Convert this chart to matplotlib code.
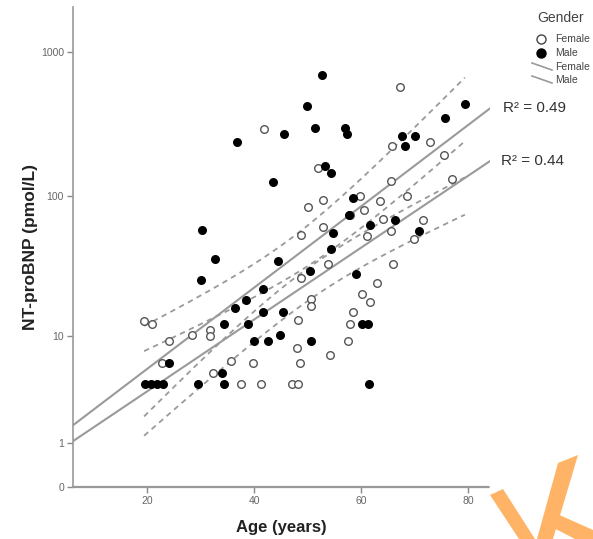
import numpy as np
import matplotlib
matplotlib.use("Agg")
import matplotlib.pyplot as plt
from matplotlib.lines import Line2D
from matplotlib.patches import Polygon

plt.rcParams['font.family'] = ['Liberation Sans', 'DejaVu Sans']

# Age (years) and NT-proBNP (pmol/L) per subject
female_age = [41.9, 67.2, 65.7, 72.8, 75.5, 77.0, 52.0, 65.6, 52.9, 59.8,
              68.5, 50.1, 60.6, 63.6, 57.9, 64.0, 52.9, 61.1, 65.6, 71.6,
              69.8, 48.7, 53.8, 66.0, 62.9, 48.7, 60.2, 61.7, 50.7, 50.7,
              58.4, 57.9, 57.6, 54.2, 48.1, 48.0, 48.5, 47.0, 48.2, 19.4,
              20.8, 24.1, 28.4, 31.7, 31.7, 22.7, 35.6, 39.8, 32.3, 37.6,
              41.2]
female_bnp = [294, 570, 223, 240, 193, 131, 157, 127, 94, 100,
              100, 84, 80, 93, 73.5, 69.7, 61, 53, 57, 68.5,
              49.9, 53.5, 33.3, 33.5, 24.4, 26.5, 20.5, 18.0, 18.7, 16.6,
              15.2, 12.2, 9.2, 7.1, 13.1, 8.1, 6.2, 4.1, 4.1, 13.0,
              12.2, 9.2, 10.2, 11.1, 10.0, 6.2, 6.4, 6.2, 5.1, 4.1,
              4.1]

male_age = [52.6, 49.9, 51.3, 57.0, 57.4, 67.6, 70.0, 68.2, 75.6, 79.4,
            53.3, 54.3, 58.5, 36.7, 45.5, 43.6, 30.2, 32.7, 30.0, 44.5,
            41.6, 38.4, 50.5, 57.8, 61.6, 66.3, 54.8, 54.4, 70.8, 59.1,
            36.4, 41.6, 45.4, 34.4, 38.9, 39.9, 42.6, 44.9, 50.6, 60.2,
            61.3, 61.4, 24.0, 33.9, 34.3, 29.5, 19.6, 20.7, 21.8, 22.9]
male_bnp = [690, 422, 300, 300, 270, 261, 261, 222, 350, 439,
            162, 145, 97, 240, 272, 126, 58, 36.5, 25.6, 35,
            22.1, 18.5, 29.9, 73.5, 63.4, 68.5, 55.6, 42.7, 57.5, 28.4,
            16.2, 15.1, 15.1, 12.2, 12.2, 9.2, 9.2, 10.1, 9.2, 12.2,
            12.2, 4.1, 6.2, 5.1, 4.1, 4.1, 4.1, 4.1, 4.1, 4.1]

# Linear fits on log10(NT-proBNP + 1): intercept, slope per year
female_fit = (0.165, 0.02476)
male_fit = (0.255, 0.02801)
r2_male = "R\u00b2 = 0.49"
r2_female = "R\u00b2 = 0.44"

y_ticks = [0, 1, 10, 100, 1000]
x_ticks = [20, 40, 60, 80]

W, H = 593, 539


def fwd(v):
    v = np.asarray(v, dtype=float)
    return np.log10(np.clip(v, 0, None) + 1.0)


def inv(t):
    return 10.0 ** np.asarray(t, dtype=float) - 1.0


def fig_xy(px, py):
    return px / W, 1 - py / H


fig = plt.figure(figsize=(W / 100, H / 100), dpi=100)
ax = fig.add_axes([73 / W, 52 / H, 417 / W, 480 / H])
ax.set_yscale('function', functions=(fwd, inv))
x_lo, x_hi = 6.1, 84.1
ax.set_xlim(x_lo, x_hi)
ax.set_ylim(0, 2040)

line_col = '#9a9a9a'
all_age = np.concatenate([female_age, male_age])
band_lo, band_hi = all_age.min(), all_age.max()


def draw_group(age, bnp, fit):
    age = np.asarray(age, float)
    t = fwd(bnp)
    a, b = fit
    xs = np.linspace(x_lo, x_hi, 200)
    ax.plot(xs, inv(a + b * xs), color=line_col, lw=1.5, zorder=2)
    # 95% confidence band of the mean
    n = len(age)
    resid = t - (a + b * age)
    s = np.sqrt(np.sum(resid ** 2) / (n - 2))
    xbar = age.mean()
    sxx = np.sum((age - xbar) ** 2)
    xc = np.linspace(band_lo, band_hi, 200)
    hw = 2.01 * s * np.sqrt(1.0 / n + (xc - xbar) ** 2 / sxx)
    for sign in (1, -1):
        ax.plot(xc, inv(a + b * xc + sign * hw), color=line_col, lw=1.3,
                ls=(0, (3, 2.5)), zorder=2)


draw_group(female_age, female_bnp, female_fit)
draw_group(male_age, male_bnp, male_fit)

ax.scatter(female_age, female_bnp, s=30, facecolors='white',
           edgecolors='#555555', linewidths=1.0, zorder=3)
ax.scatter(male_age, male_bnp, s=30, facecolors='black',
           edgecolors='black', linewidths=1.0, zorder=4)

ax.set_yticks(y_ticks)
ax.set_yticklabels([str(v) for v in y_ticks])
ax.set_xticks(x_ticks)
ax.minorticks_off()
ax.tick_params(axis='both', colors='#888888', labelcolor='#666666',
               labelsize=7.5, length=4, width=1, pad=2.5)
for side in ('top', 'right'):
    ax.spines[side].set_visible(False)
ax.spines['left'].set_color('#999999')
ax.spines['left'].set_linewidth(1.2)
ax.spines['bottom'].set_color('#999999')
ax.spines['bottom'].set_linewidth(1.6)
ax.spines['bottom'].set_linestyle((0, (1, 1)))

ax.set_xlabel('Age (years)', fontsize=12, fontweight='bold',
              color='#222222')
ax.set_ylabel('NT-proBNP (pmol/L)', fontsize=12.5, fontweight='bold',
              color='#222222')
ax.xaxis.set_label_coords(0.5, -0.068)
ax.yaxis.set_label_coords(-0.084, 0.5)

fig.text(*fig_xy(503, 108), r2_male, fontsize=11, color='#333333',
         va='center', ha='left')
fig.text(*fig_xy(501, 161), r2_female, fontsize=11, color='#333333',
         va='center', ha='left')

# Legend block in the top-right corner
leg_col = '#444444'
fig.text(*fig_xy(561, 18), 'Gender', fontsize=10, color=leg_col,
         ha='center', va='center')
fig.add_artist(Line2D([541 / W], [1 - 39 / H], ls='none', marker='o',
                      markersize=6.5, markerfacecolor='white',
                      markeredgecolor='#444444', transform=fig.transFigure))
fig.add_artist(Line2D([541 / W], [1 - 53 / H], ls='none', marker='o',
                      markersize=6.5, markerfacecolor='black',
                      markeredgecolor='black', transform=fig.transFigure))
for y0 in (63, 76):
    x0, y0f = fig_xy(532, y0)
    x1, y1f = fig_xy(552, y0 + 7)
    fig.add_artist(Line2D([x0, x1], [y0f, y1f], color=line_col, lw=1.2,
                          transform=fig.transFigure))
for y, label in ((39, 'Female'), (53, 'Male'), (67, 'Female'), (80, 'Male')):
    fig.text(*fig_xy(555, y), label, fontsize=7.5, color=leg_col,
             ha='left', va='center')

# Orange corner logo
logo_col = '#FFB366'
logo_polys = [
    [(490, 495), (503, 489), (535, 539), (519, 539)],
    [(558, 463), (578, 455), (553, 539), (537, 539)],
    [(548, 525), (555, 513), (593, 530), (593, 539), (575, 539)],
]
for poly in logo_polys:
    pts = [fig_xy(x, y) for x, y in poly]
    fig.patches.append(Polygon(pts, closed=True, transform=fig.transFigure,
                               facecolor=logo_col, edgecolor='none',
                               zorder=10))

fig.savefig('out.png', dpi=100)
